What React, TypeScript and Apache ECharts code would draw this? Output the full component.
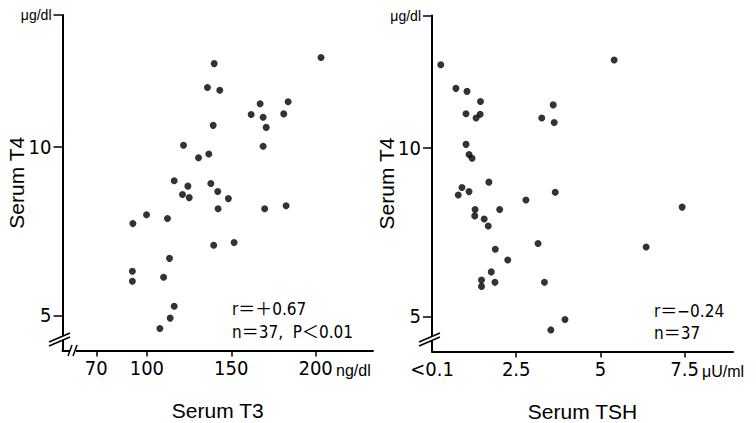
import React, { useEffect, useRef } from "react";
import * as echarts from "echarts";

// Left panel: Serum T3 (ng/dl) vs Serum T4 (μg/dl)
const t3Values = [203.2, 139.9, 135.9, 143.2, 167.1, 183.7, 161.8, 168.9, 181.1, 170.7, 139.3, 168.9, 121.7, 136.7, 130.6, 116.2, 124.3, 137.9, 121.1, 125.1, 142.0, 148.3, 142.2, 169.8, 99.8, 91.7, 112.2, 139.6, 151.7, 113.4, 91.4, 91.4, 109.9, 116.2, 113.8, 107.7, 182.5];
const t4ValuesLeft = [12.64, 12.46, 11.75, 11.67, 11.27, 11.33, 10.95, 10.87, 10.97, 10.57, 10.63, 10.01, 10.04, 9.78, 9.67, 8.99, 8.83, 8.91, 8.58, 8.49, 8.67, 8.46, 8.16, 8.16, 7.98, 7.72, 7.87, 7.08, 7.16, 6.69, 6.31, 6.01, 6.13, 5.27, 4.92, 4.61, 8.25];

// Right panel: Serum TSH (μU/ml) vs Serum T4 (μg/dl)
const tshValues = [0.26, 5.41, 0.71, 1.04, 1.44, 3.60, 1.01, 1.43, 1.31, 3.26, 3.63, 1.01, 1.10, 1.19, 1.69, 0.89, 0.78, 1.10, 3.66, 2.79, 1.28, 2.01, 1.27, 1.55, 1.67, 7.43, 3.15, 6.36, 1.88, 2.25, 1.76, 1.47, 1.87, 1.47, 3.34, 3.95, 3.53];
const t4ValuesRight = [12.46, 12.60, 11.76, 11.67, 11.37, 11.27, 11.01, 10.99, 10.88, 10.88, 10.75, 10.10, 9.80, 9.69, 8.98, 8.82, 8.60, 8.70, 8.68, 8.45, 8.17, 8.17, 7.98, 7.89, 7.68, 8.24, 7.16, 7.06, 6.99, 6.67, 6.32, 6.08, 6.01, 5.89, 6.01, 4.91, 4.60];

const t3Ticks = [70, 100, 150, 200];
const tshTicks = [2.5, 5, 7.5];
const tshLabels = [0, 2.5, 5, 7.5];
const yTop = 13.9;
const t4Ticks = [5, 10, yTop];

const NARROW = "'Liberation Sans Narrow','DejaVu Sans Condensed','Noto Sans CJK JP',sans-serif";
const SANS = "'Liberation Sans','Noto Sans CJK JP',sans-serif";

function yAxisCfg(gridIndex: number, min: number, max: number, nameGap: number) {
  return {
    type: "value",
    gridIndex,
    min,
    max,
    name: "Serum T4",
    nameLocation: "middle",
    nameGap,
    nameMoveOverlap: false,
    nameTextStyle: { fontFamily: SANS, fontSize: 21, color: "#000" },
    axisLine: { show: true, lineStyle: { color: "#000", width: 2 } },
    axisTick: { show: true, length: 9, customValues: t4Ticks, lineStyle: { color: "#000", width: 1.5 } },
    axisLabel: {
      show: true,
      customValues: t4Ticks,
      margin: 11,
      color: "#000",
      fontFamily: NARROW,
      fontSize: 20,
      formatter: (v: number) => (v === yTop ? "{u|\u03bcg/dl}" : String(v)),
      rich: { u: { fontFamily: SANS, fontSize: 14, color: "#000" } },
    },
    splitLine: { show: false },
  };
}

export default function App() {
  const ref = useRef<HTMLDivElement>(null);
  useEffect(() => {
    if (!ref.current) return;
    const chart = echarts.init(ref.current, undefined, { renderer: "svg" });
    const black = "#000";
    const brk = (cx: number, cy: number) => [
      { type: "polygon", shape: { points: [[cx - 11, cy + 3], [cx + 9, cy - 6], [cx + 9, cy - 2], [cx - 11, cy + 7]] }, style: { fill: "#fff" }, z: 100 },
      { type: "line", shape: { x1: cx - 12, y1: cy + 3, x2: cx + 9, y2: cy - 6 }, style: { stroke: black, lineWidth: 1.5 }, z: 101 },
      { type: "line", shape: { x1: cx - 12, y1: cy + 7, x2: cx + 9, y2: cy - 2 }, style: { stroke: black, lineWidth: 1.5 }, z: 101 },
    ];
    chart.setOption({
      animation: false,
      backgroundColor: "#fff",
      grid: [
        { left: 62.5, top: 15, width: 310.5, height: 335.5, containLabel: false, outerBoundsMode: "none" },
        { left: 432, top: 15.5, width: 301, height: 336, containLabel: false, outerBoundsMode: "none" },
      ],
      xAxis: [
        {
          type: "value",
          gridIndex: 0,
          min: 50,
          max: 234,
          name: "Serum T3",
          nameLocation: "middle",
          nameGap: 49,
          nameMoveOverlap: false,
          nameTextStyle: { fontFamily: SANS, fontSize: 21, color: black },
          axisLine: { show: true, lineStyle: { color: black, width: 2 } },
          axisTick: { show: true, length: 6, customValues: t3Ticks, lineStyle: { color: black, width: 1.5 } },
          axisLabel: { show: true, customValues: t3Ticks, margin: 7, color: black, fontFamily: NARROW, fontSize: 20 },
          splitLine: { show: false },
        },
        {
          type: "value",
          gridIndex: 1,
          min: 0,
          max: 8.94,
          name: "Serum TSH",
          nameLocation: "middle",
          nameGap: 49,
          nameMoveOverlap: false,
          nameTextStyle: { fontFamily: SANS, fontSize: 21, color: black },
          axisLine: { show: true, lineStyle: { color: black, width: 2 } },
          axisTick: { show: true, length: 6, customValues: tshTicks, lineStyle: { color: black, width: 1.5 } },
          axisLabel: {
            show: true,
            customValues: tshLabels,
            margin: 7,
            color: black,
            fontFamily: NARROW,
            fontSize: 20,
            formatter: (v: number) => (v === 0 ? "<0.1" : String(v)),
          },
          splitLine: { show: false },
        },
      ],
      yAxis: [yAxisCfg(0, 3.96, yTop, 36), yAxisCfg(1, 3.96, 13.92, 35)],
      series: [
        {
          type: "scatter",
          xAxisIndex: 0,
          yAxisIndex: 0,
          symbolSize: 7,
          itemStyle: { color: black },
          data: t3Values.map((x, i) => [x, t4ValuesLeft[i]]),
        },
        {
          type: "scatter",
          xAxisIndex: 1,
          yAxisIndex: 1,
          symbolSize: 7,
          itemStyle: { color: black },
          data: tshValues.map((x, i) => [x, t4ValuesRight[i]]),
        },
      ],
      graphic: [
        ...brk(61, 339),
        ...brk(431, 339),
        { type: "rect", shape: { x: 70, y: 346, width: 6, height: 9 }, style: { fill: "#fff" }, z: 100 },
        { type: "line", shape: { x1: 68, y1: 356, x2: 72, y2: 345 }, style: { stroke: black, lineWidth: 1.5 }, z: 101 },
        { type: "line", shape: { x1: 73, y1: 356, x2: 77, y2: 345 }, style: { stroke: black, lineWidth: 1.5 }, z: 101 },
        { type: "text", x: 336, y: 370, style: { text: "ng/dl", fontFamily: SANS, fontSize: 16, fill: black, verticalAlign: "middle" } },
        { type: "text", x: 702, y: 371, style: { text: "\u03bcU/ml", fontFamily: SANS, fontSize: 16, fill: black, verticalAlign: "middle" } },
        { type: "text", x: 232, y: 309, style: { text: "r＝＋0.67", fontFamily: NARROW, fontSize: 17, fill: black, verticalAlign: "middle" } },
        { type: "text", x: 232, y: 332, style: { text: "n＝37,  P＜0.01", fontFamily: NARROW, fontSize: 17, fill: black, verticalAlign: "middle" } },
        { type: "text", x: 654, y: 311, style: { text: "r＝−0.24", fontFamily: NARROW, fontSize: 17, fill: black, verticalAlign: "middle" } },
        { type: "text", x: 654, y: 333, style: { text: "n＝37", fontFamily: NARROW, fontSize: 17, fill: black, verticalAlign: "middle" } },
      ],
    });
    return () => chart.dispose();
  }, []);
  return <div ref={ref} style={{ position: "fixed", left: 0, top: 0, width: 756, height: 423, background: "#fff" }} />;
}
